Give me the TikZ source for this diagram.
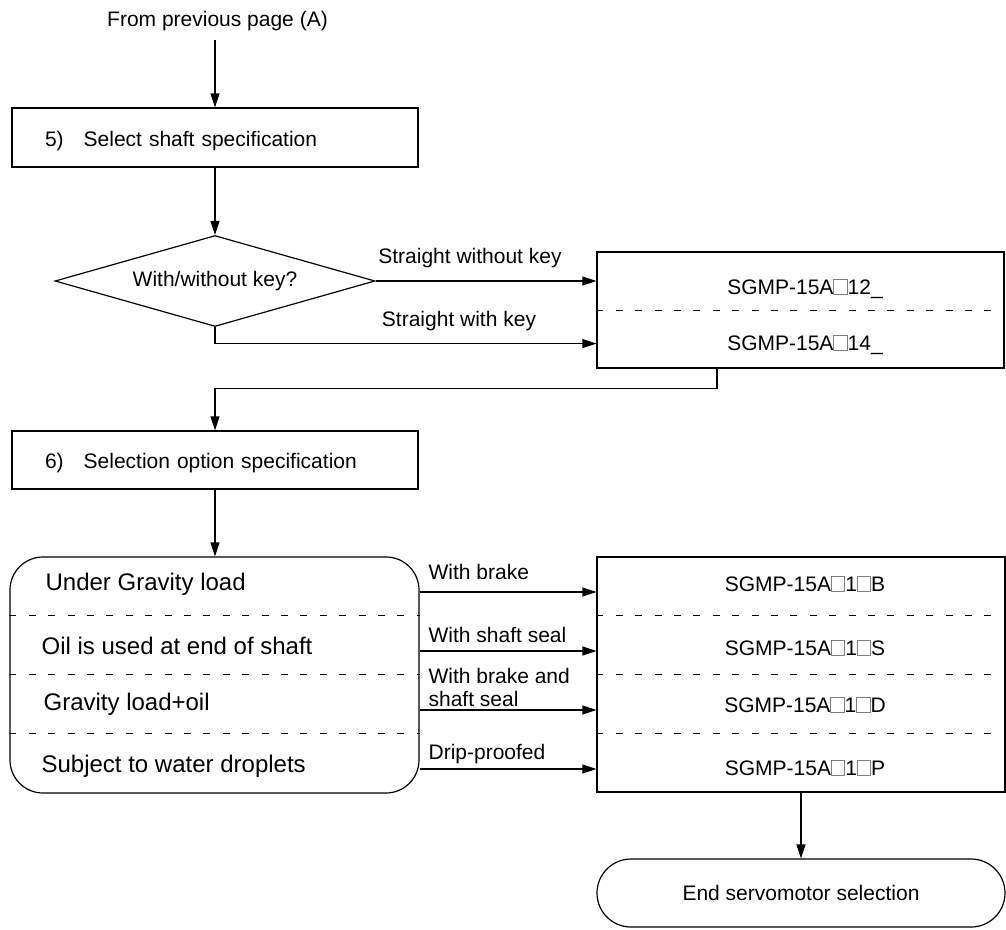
\documentclass[tikz,border=0pt]{standalone}
\usepackage{fontspec}
\setmainfont{Liberation Sans}
\usetikzlibrary{arrows.meta,shapes.geometric}
\newcommand{\sqb}{{\color{gray}\setlength{\fboxsep}{0pt}\setlength{\fboxrule}{0.8pt}\fbox{\rule{0pt}{0.68em}\rule{0.6em}{0pt}}}}
\newcommand{\fA}{\fontsize{21}{23}\selectfont}
\newcommand{\fB}{\fontsize{24}{27}\selectfont}
\begin{document}
\begin{tikzpicture}[x=1pt,y=-1pt,
  line width=1.2pt,
  arr/.style={-{Triangle[length=14pt,width=9pt]}},
  lbl/.style={font=\fA, inner sep=0pt, anchor=base},
  lbll/.style={font=\fA, inner sep=0pt, anchor=base west},
  btxt/.style={font=\fB, inner sep=0pt, anchor=base west},
  procbox/.style={draw, rectangle, minimum width=406pt, minimum height=59pt, text width=340pt, align=left, inner xsep=33pt, inner ysep=0pt, text height=18pt, text depth=1pt, font=\fA},
  gridbox/.style={draw, rectangle, inner sep=0pt},
  dsh/.style={line width=1pt, dash pattern=on 7pt off 12.4pt},
]
\useasboundingbox (0,0) rectangle (1006,929);

% top
\node[lbl] (from) at (217.5,26) {From previous page (A)};
\coordinate (fromEnd) at (215,40);
\node[procbox] (s5) at (215,137.5) {5)\hspace{20pt}Select shaft specification};
\draw[arr] (fromEnd) -- (s5.north);

% decision
\node[draw, diamond, minimum width=320pt, minimum height=91pt, aspect=3.5, inner sep=0pt, font=\fA] (dk) at (215,281) {With/without key?};
\draw[arr] (s5.south) -- (dk.north);

% key box
\node[gridbox, minimum width=407pt, minimum height=116pt] (k1) at (800.5,310) {};
\draw[dsh] (k1.west) -- (k1.east);
\node[lbl] (k1a) at (805,294) {SGMP-15A\sqb12\_};
\node[lbl] (k1b) at (805,350) {SGMP-15A\sqb14\_};

\draw[arr] (dk.east) -- (dk.east -| k1.west);
\node[lbl] (l1) at (470,263) {Straight without key};
\coordinate (k1in2) at ([yshift=25pt]k1.south west);
\draw[arr] (dk.south) |- (k1in2);
\node[lbl] (l2) at (459,326) {Straight with key};

% to step 6
\node[procbox, minimum height=58pt] (s6) at (215,460) {6)\hspace{20pt}Selection option specification};
\coordinate (k1out) at ([xshift=-83.5pt]k1.south);
\draw[arr] (k1out) -- ++(0,20) -| (s6.north);

% options
\node[draw, rectangle, rounded corners=33pt, minimum width=409pt, minimum height=236pt, inner sep=0pt] (opt) at (214.5,675) {};
\draw[arr] (s6.south) -- (s6.south |- opt.north);
\node[gridbox, minimum width=408pt, minimum height=235pt] (o2) at (801,674.5) {};
\foreach \yy in {615,674,733}{
  \draw[dsh] (opt.west |- 0,\yy) -- (opt.east |- 0,\yy);
  \draw[dsh] (o2.west |- 0,\yy) -- (o2.east |- 0,\yy);
}
\node[btxt] (c1) at (45,590) {Under Gravity load};
\node[btxt] (c2) at (41,654) {Oil is used at end of shaft};
\node[btxt] (c3) at (43,710) {Gravity load+oil};
\node[btxt] (c4) at (41,772) {Subject to water droplets};

\node[lbl] (o2a) at (805,591) {SGMP-15A\sqb1\sqb B};
\node[lbl] (o2b) at (805,655) {SGMP-15A\sqb1\sqb S};
\node[lbl] (o2c) at (805,712) {SGMP-15A\sqb1\sqb D};
\node[lbl] (o2d) at (805,775) {SGMP-15A\sqb1\sqb P};

\foreach \yy in {592,651,710,769}{
  \draw[arr] (opt.east |- 0,\yy) -- (o2.west |- 0,\yy);
}
\node[lbll] (m1) at (428,579) {With brake};
\node[lbll] (m2) at (428,642) {With shaft seal};
\node[lbll] (m3a) at (428,683) {With brake and};
\node[lbll] (m3b) at (428,706) {shaft seal};
\node[lbll] (m4) at (428,759) {Drip-proofed};

% end
\node[draw, rectangle, rounded corners=34pt, minimum width=408pt, minimum height=68pt, inner sep=0pt, font=\fA] (end) at (801,893) {End servomotor selection};
\draw[arr] (o2.south) -- (end.north);
\end{tikzpicture}
\end{document}
